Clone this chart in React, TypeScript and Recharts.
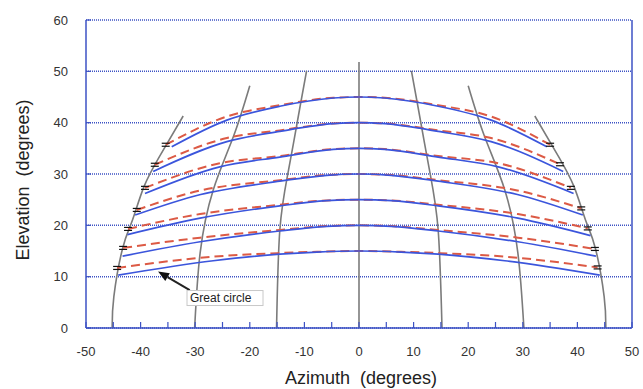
import React from 'react';
import {
  ComposedChart,
  Line,
  XAxis,
  YAxis,
  CartesianGrid,
  ReferenceLine,
  ReferenceDot,
} from 'recharts';

type Pt = { az: number; el: number };

const xTicks = [-50, -45, -40, -35, -30, -25, -20, -15, -10, -5, 0, 5, 10, 15, 20, 25, 30, 35, 40, 45, 50];
const yTicks = [0, 10, 20, 30, 40, 50, 60];

// blue solid curves (azimuth, elevation)
const blue45 = [[-34.3, 35.3], [-24.2, 40.5], [-14.5, 43.2], [-4.7, 44.8], [0, 45], [4.7, 44.8], [14.5, 43.2], [24.2, 40.5], [34.4, 35.3]];
const blue40 = [[-37.7, 30.5], [-24.2, 36.3], [-14.5, 38.3], [-4.7, 39.8], [0, 40], [4.7, 39.8], [14.5, 38.3], [24.2, 36.3], [37.4, 30.5]];
const blue35 = [[-39.2, 26.2], [-25.5, 31.4], [-14.5, 33.3], [-4.7, 34.8], [0, 35], [4.7, 34.8], [14.5, 33.3], [25.5, 31.4], [39.3, 26.2]];
const blue30 = [[-41.0, 22.0], [-29, 26.0], [-14.5, 28.6], [-5.9, 29.75], [0, 30], [5.9, 29.75], [14.5, 28.6], [29, 26.0], [41.0, 22.0]];
const blue25 = [[-42.4, 18.2], [-29.1, 21.4], [-14.5, 23.8], [-5.9, 24.8], [0, 25], [5.9, 24.8], [14.5, 23.8], [29.1, 21.4], [42.4, 18.0]];
const blue20 = [[-43.3, 14.0], [-29.1, 16.8], [-14.5, 18.9], [-5.9, 19.8], [0, 20], [5.9, 19.8], [14.5, 18.9], [29.1, 16.8], [43.4, 14.0]];
const blue15 = [[-44.1, 10.3], [-26.7, 13.1], [-14.5, 14.4], [-7.7, 14.8], [0, 15], [7.7, 14.8], [14.5, 14.4], [26.7, 13.1], [44.1, 10.3]];

// red dashed curves
const red45 = [[-35.4, 35.7], [-24.2, 41.2], [-14.5, 43.4], [-4.7, 44.85], [0, 45], [4.7, 44.85], [14.5, 43.4], [24.2, 41.2], [35.0, 35.7]];
const red40 = [[-37.4, 31.8], [-24.2, 37.0], [-14.5, 38.5], [-4.7, 39.85], [0, 40], [4.7, 39.85], [14.5, 38.5], [24.2, 37.0], [36.8, 31.9]];
const red35 = [[-39.2, 27.3], [-25.5, 32.1], [-14.5, 33.5], [-4.7, 34.85], [0, 35], [4.7, 34.85], [14.5, 33.5], [25.5, 32.1], [38.8, 27.3]];
const red30 = [[-40.7, 23.0], [-29, 26.8], [-14.5, 28.8], [-5.9, 29.8], [0, 30], [5.9, 29.8], [14.5, 28.8], [29, 26.8], [40.7, 23.3]];
const red25 = [[-42.3, 19.3], [-29.1, 22.2], [-14.5, 24.0], [-5.9, 24.85], [0, 25], [5.9, 24.85], [14.5, 24.0], [29.1, 22.2], [41.9, 19.4]];
const red20 = [[-43.2, 15.6], [-29.1, 17.6], [-14.5, 19.1], [-5.9, 19.85], [0, 20], [5.9, 19.85], [14.5, 19.1], [29.1, 17.6], [43.2, 15.4]];
const red15 = [[-44.3, 11.7], [-26.7, 13.9], [-14.5, 14.6], [-7.7, 14.85], [0, 15], [7.7, 14.85], [14.5, 14.6], [26.7, 13.9], [43.7, 11.8]];

// gray meridians
const merid0 = [[0, 0], [0, 51.8]];
const meridL15 = [[-15.1, 0], [-14.5, 19.1], [-12.9, 30.8], [-10.8, 43.1], [-9.6, 50.1]];
const meridR15 = [[15.2, 0], [14.5, 19.1], [12.9, 30.8], [10.8, 43.1], [9.6, 50.1]];
const meridL30 = [[-30.1, 0], [-29.1, 14.6], [-26.7, 26.9], [-23.0, 37.3], [-20.0, 47.2]];
const meridR30 = [[30.2, 0], [29.1, 14.6], [26.7, 26.9], [23.0, 37.3], [20.0, 47.2]];
const meridL45 = [[-45.2, 0], [-44.9, 6.1], [-43.3, 15.5], [-41.5, 21.0], [-39.4, 27.5], [-36.5, 33.5], [-32.2, 41.3]];
const meridR45 = [[45.2, 0], [44.9, 6.1], [43.3, 15.5], [41.5, 21.0], [39.4, 27.5], [36.5, 33.5], [32.2, 41.3]];

// "=" markers at the ends of the dashed curves
const markers = [
  [-35.4, 35.7], [-37.4, 31.8], [-39.2, 27.3], [-40.7, 23.0], [-42.3, 19.3], [-43.2, 15.6], [-44.3, 11.7],
  [35.0, 35.7], [36.8, 31.9], [38.8, 27.3], [40.7, 23.3], [41.9, 19.4], [43.2, 15.4], [43.7, 11.8],
];

const arrowTail = { az: -31.0, el: 7.4 };
const arrowTip = { az: -36.8, el: 11.0 };
const labelAt = { az: -31.5, el: 7.3 };

const toPts = (a: number[][]): Pt[] => a.map(([az, el]) => ({ az, el }));

const BLUE = '#3b55dc';
const FRAME = '#3d52c4';
const RED = '#dc5a45';
const GRAY = '#7b7b7b';
const FONT = '"Liberation Sans", Arial, Helvetica, sans-serif';

const MarkShape = (props: any) => {
  const { cx, cy } = props;
  if (cx == null || cy == null) return <g />;
  return (
    <g>
      <line x1={cx - 4} x2={cx + 4} y1={cy - 1.5} y2={cy - 1.5} stroke="#111" strokeWidth={1.2} />
      <line x1={cx - 4} x2={cx + 4} y1={cy + 1.5} y2={cy + 1.5} stroke="#111" strokeWidth={1.2} />
    </g>
  );
};

const ArrowShape = (props: any) => {
  const { x1, y1, x2, y2 } = props;
  const ang = Math.atan2(y2 - y1, x2 - x1);
  const len = 11;
  const half = 4.5;
  const bx = x2 - len * Math.cos(ang);
  const by = y2 - len * Math.sin(ang);
  const px = -Math.sin(ang) * half;
  const py = Math.cos(ang) * half;
  return (
    <g>
      <line x1={x1} y1={y1} x2={bx} y2={by} stroke="#222" strokeWidth={2} />
      <polygon points={`${x2},${y2} ${bx + px},${by + py} ${bx - px},${by - py}`} fill="#111" />
    </g>
  );
};

const LabelBox = (props: any) => {
  const { cx, cy } = props;
  return (
    <g>
      <rect x={cx} y={cy} width={76} height={15} fill="#fff" stroke="#c8c8c8" strokeWidth={1} />
      <text x={cx + 3} y={cy + 11.5} fontSize={12} fill="#222" fontFamily={FONT}>
        Great circle
      </text>
    </g>
  );
};

const blueSet = [blue45, blue40, blue35, blue30, blue25, blue20, blue15];
const redSet = [red45, red40, red35, red30, red25, red20, red15];
const meridSet = [merid0, meridL15, meridR15, meridL30, meridR30, meridL45, meridR45];

const App = () => {
  return (
    <div style={{ position: 'absolute', left: 0, top: 0, width: 643, height: 389, background: '#fff' }}>
      <ComposedChart
        width={643}
        height={389}
        margin={{ top: 20, right: 11, bottom: 31, left: 0 }}
        style={{ fontFamily: FONT }}
      >
        <CartesianGrid
          vertical={false}
          stroke={FRAME}
          strokeWidth={1.5}
          strokeDasharray="1 1"
        />
        <XAxis
          type="number"
          dataKey="az"
          domain={[-50, 50]}
          ticks={xTicks}
          interval={0}
          height={30}
          tickFormatter={(v: number) => (v % 10 === 0 ? String(v) : '')}
          tickSize={-6}
          tickMargin={25}
          axisLine={{ stroke: FRAME, strokeWidth: 1.5 }}
          tickLine={{ stroke: FRAME, strokeWidth: 1.2 }}
          tick={{ fill: '#333', fontSize: 13, fontFamily: FONT }}
          allowDataOverflow
        />
        <YAxis
          type="number"
          dataKey="el"
          domain={[0, 60]}
          ticks={yTicks}
          width={86}
          tickSize={-5}
          tickMargin={23}
          axisLine={{ stroke: FRAME, strokeWidth: 1.5 }}
          tickLine={{ stroke: FRAME, strokeWidth: 1.2 }}
          tick={{ fill: '#333', fontSize: 13, fontFamily: FONT }}
          allowDataOverflow
        />
        <ReferenceLine x={50} stroke={FRAME} strokeWidth={1.5} />

        {meridSet.map((m, i) => (
          <Line
            key={`m${i}`}
            data={toPts(m)}
            dataKey="el"
            type="natural"
            stroke={GRAY}
            strokeWidth={1.6}
            dot={false}
            activeDot={false}
            isAnimationActive={false}
          />
        ))}
        {redSet.map((r, i) => (
          <Line
            key={`r${i}`}
            data={toPts(r)}
            dataKey="el"
            type="monotone"
            stroke={RED}
            strokeWidth={2}
            strokeDasharray="9 5"
            dot={false}
            activeDot={false}
            isAnimationActive={false}
          />
        ))}
        {blueSet.map((b, i) => (
          <Line
            key={`b${i}`}
            data={toPts(b)}
            dataKey="el"
            type="monotone"
            stroke={BLUE}
            strokeWidth={1.7}
            dot={false}
            activeDot={false}
            isAnimationActive={false}
          />
        ))}
        <Line
          data={toPts(markers)}
          dataKey="el"
          stroke="none"
          dot={(p: any) => <MarkShape key={`k${p.index}`} {...p} />}
          activeDot={false}
          isAnimationActive={false}
        />
        <ReferenceLine
          segment={[{ x: arrowTail.az, y: arrowTail.el }, { x: arrowTip.az, y: arrowTip.el }]}
          shape={(p: any) => <ArrowShape {...p} />}
        />
        <ReferenceDot x={labelAt.az} y={labelAt.el} shape={(p: any) => <LabelBox {...p} />} />
      </ComposedChart>
      <div
        style={{
          position: 'absolute',
          left: 0,
          width: 643,
          top: 368,
          textAlign: 'center',
          paddingLeft: 79,
          boxSizing: 'border-box',
          fontFamily: FONT,
          fontSize: 18,
          lineHeight: '20px',
          color: '#222',
          whiteSpace: 'pre',
        }}
      >
        {'Azimuth  (degrees)'}
      </div>
      <div
        style={{
          position: 'absolute',
          left: 23 - 100,
          top: 180 - 10,
          width: 200,
          height: 20,
          textAlign: 'center',
          transform: 'rotate(-90deg)',
          fontFamily: FONT,
          fontSize: 18,
          lineHeight: '20px',
          color: '#222',
          whiteSpace: 'pre',
        }}
      >
        {'Elevation  (degrees)'}
      </div>
    </div>
  );
};

export default App;
